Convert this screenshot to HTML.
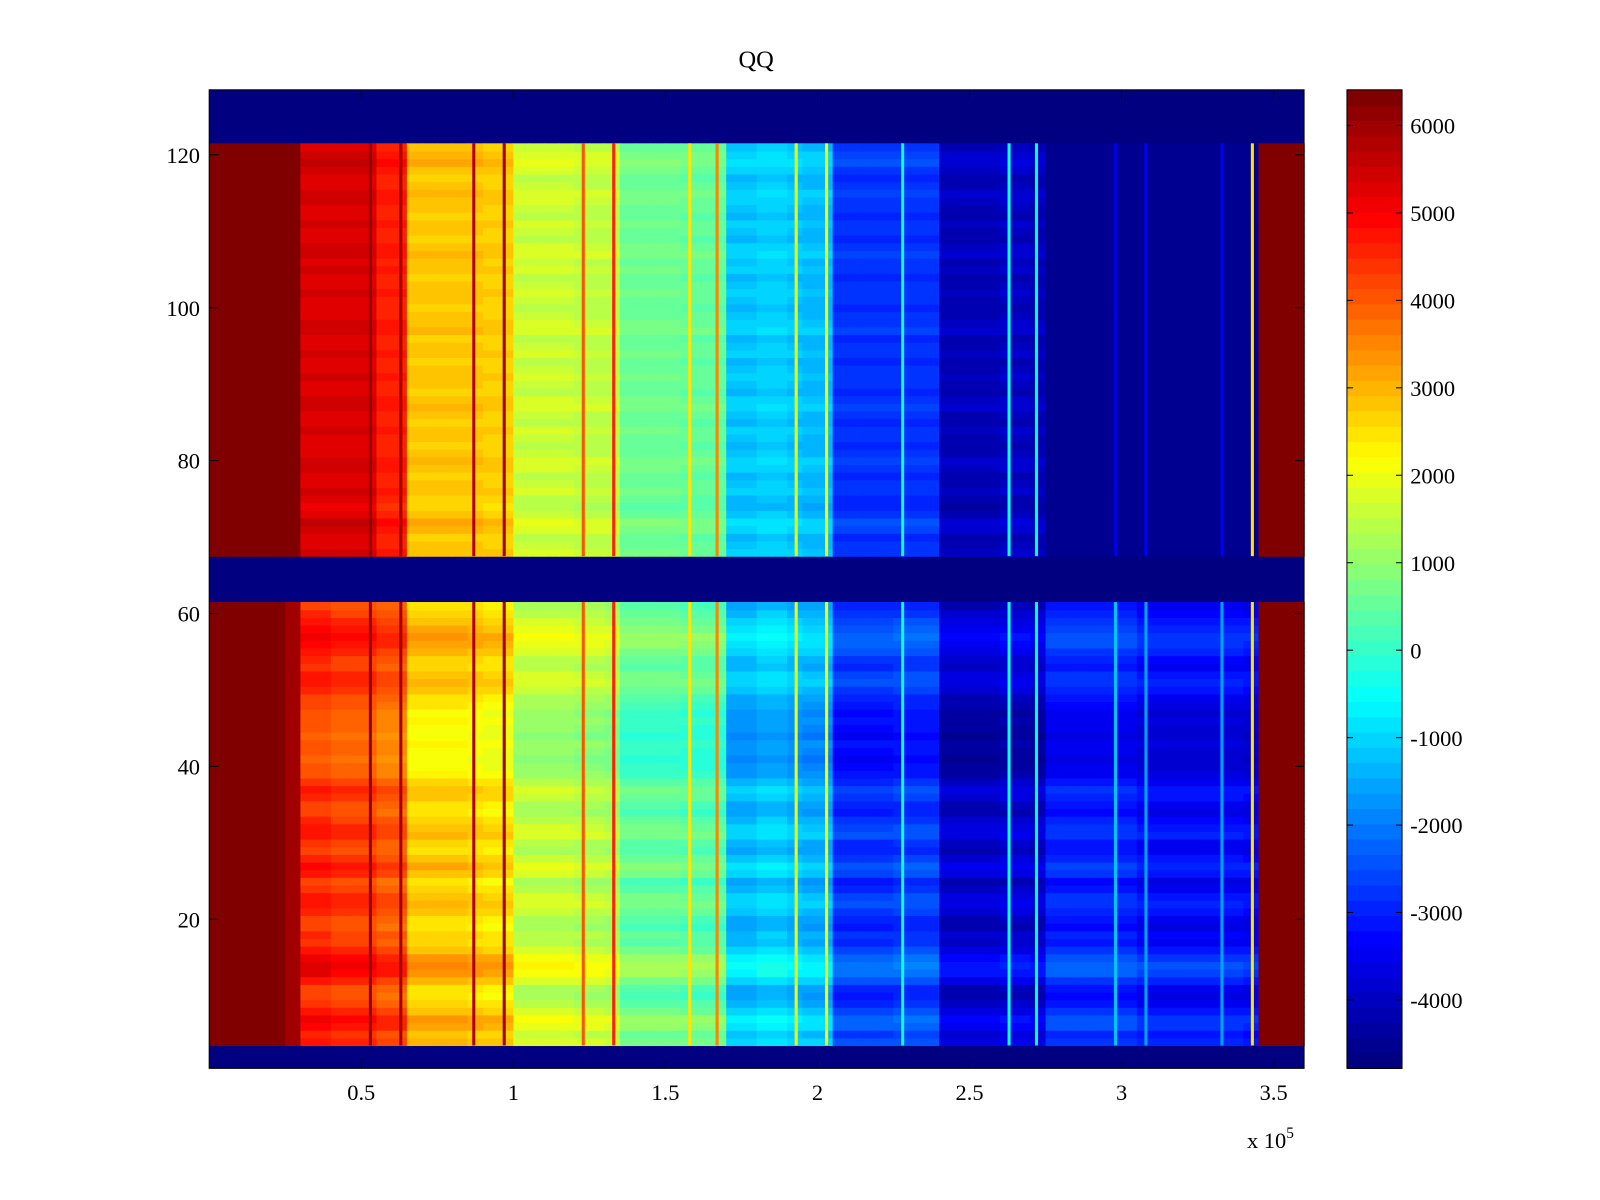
<!DOCTYPE html>
<html><head><meta charset="utf-8"><title>QQ</title>
<style>
html,body{margin:0;padding:0;background:#fff;}
svg{display:block;font-family:"Liberation Serif",serif;}
</style></head>
<body>
<svg id="chart" width="1600" height="1200" viewBox="0 0 1568 1176">
<text x="741" y="66" font-size="24" text-anchor="middle">QQ</text>
<g id="cells"></g>
<g id="lines"></g>
<rect x="205" y="88" width="1073" height="959" fill="none" stroke="#000" stroke-width="1"/>
<g id="axes"></g>
<g id="cbar"></g>
<text x="1222" y="1125" font-size="22">x 10<tspan dy="-10" font-size="15">5</tspan></text>
</svg>
<script>
// ---- data ----
const binWidth = 0.05;
const topBase = [6400,6400,6400,6400,6400,6400,5300,5300,5300,5300,5300,4600,4600,2800,2800,2800,2800,2800,2700,2700,1600,1600,1600,1600,1500,1500,1500,600,600,600,600,500,500,500,-1200,-1200,-1100,-1100,-1200,-1300,-1300,-2800,-2800,-2800,-2800,-2800,-2800,-2800,-4100,-4100,-4100,-4100,-4000,-4000,-4100,-4600,-4600,-4600,-4600,-4600,-4600,-4600,-4600,-4600,-4600,-4600,-4600,-4600,-4600,6400,6400,6400];
const bottomBase = [6400,6400,6400,6400,6400,6000,4500,4500,4300,4300,4300,4000,4000,2700,2700,2700,2700,2600,2500,2500,1500,1500,1500,1500,1400,1400,1300,500,500,500,500,400,400,400,-1300,-1300,-1100,-1100,-1300,-1400,-1400,-2800,-2800,-2800,-2800,-2700,-2700,-2700,-3900,-3900,-3900,-3900,-3800,-3800,-3900,-3000,-3000,-3000,-3000,-3000,-3000,-3300,-3300,-3300,-3300,-3300,-3300,-3300,-3400,6400,6400,6400];
const topRows = [68,121];
const bottomRows = [4,61];
const rowOffsetBottom = [300,100,500,600,200,-100,-300,-200,300,700,800,600,200,-100,0,-300,-200,100,300,200,-100,-300,200,400,100,-200,-100,300,200,0,-300,-200,100,200,-100,-400,-500,-600,-500,-400,-600,-500,-400,-500,-300,-200,100,300,200,-100,0,300,500,600,400,200,0,-200];
const rowOffsetTop = [100,0,-100,200,300,0,-200,-100,100,0,-100,100,200,0,-100,0,100,-100,0,200,100,-100,0,100,0,-100,100,0,-100,200,100,0,-100,0,100,0,-100,100,0,200,100,-100,0,100,-100,0,100,200,0,-100,100,300,200,0];
const lineX = [0.53,0.63,0.87,0.97,1.23,1.33,1.58,1.67,1.93,2.03,2.28,2.63,2.72,2.98,3.08,3.33,3.43];
const lineValBottom = [6200,6000,5800,6000,4000,4500,2500,3500,2000,2200,-500,-500,-500,-1200,-1500,-1500,2500];
const lineValTop = [6200,6000,5800,6000,4000,4500,2500,3500,2000,2200,-500,-500,-500,-3600,-3400,-3400,2500];
const xTicks = [0.5,1,1.5,2,2.5,3,3.5];
const xTickLabels = ["0.5","1","1.5","2","2.5","3","3.5"];
const yTicks = [20,40,60,80,100,120];
const cTicks = [6000,5000,4000,3000,2000,1000,0,-1000,-2000,-3000,-4000];
const cMin = -4782, cMax = 6408;

// ---- scales ----
const PX0=205, PX1=1278, PY0=88, PY1=1047;
const xMin=0, xMax=3.6, yMin=0.5, yMax=128.5;
const sx = v => PX0 + (v - xMin) / (xMax - xMin) * (PX1 - PX0);
const sy = v => PY1 - (v - yMin) / (yMax - yMin) * (PY1 - PY0);
const CB0=88, CB1=1047;
const sc = v => CB1 - (v - cMin) / (cMax - cMin) * (CB1 - CB0);

function jet(v){
  let t=(v-cMin)/(cMax-cMin); t=Math.max(0,Math.min(1,t));
  t=Math.floor(t*63.999)/63;
  const f=x=>Math.max(0,Math.min(1,x));
  const r=f(1.5-Math.abs(4*t-3)), g=f(1.5-Math.abs(4*t-2)), b=f(1.5-Math.abs(4*t-1));
  return `rgb(${Math.round(r*255)},${Math.round(g*255)},${Math.round(b*255)})`;
}
const NS="http://www.w3.org/2000/svg";
function mk(tag, attrs, parent){const e=document.createElementNS(NS,tag);for(const k in attrs)e.setAttribute(k,attrs[k]);parent.appendChild(e);return e;}

const cells=document.getElementById('cells');
const bg=mk('rect',{x:PX0,y:PY0,width:PX1-PX0,height:PY1-PY0,fill:jet(cMin)},cells);



function drawBlock(base, rows, offs, name){
  for(let r=rows[0]; r<=rows[1]; r++){
    const off=offs[r-rows[0]]||0;
    for(let c=0;c<base.length;c++){
      const b=base[c];
      const v=(b>=6000||b<=-4500)?b:b+off;
      const x0=sx(c*binWidth), x1=sx((c+1)*binWidth);
      const y0=sy(r+0.5), y1=sy(r-0.5);
      const e=mk('rect',{x:x0.toFixed(2),y:y0.toFixed(2),width:(x1-x0+0.6).toFixed(2),height:(y1-y0+0.6).toFixed(2),fill:jet(v)},cells);
      
      
    }
  }
}
drawBlock(bottomBase,bottomRows,rowOffsetBottom,'cell-bottom');
drawBlock(topBase,topRows,rowOffsetTop,'cell-top');

const lines=document.getElementById('lines');
[[bottomRows,lineValBottom],[topRows,lineValTop]].forEach(([rows,vals])=>{
  lineX.forEach((lx,i)=>{
    const e=mk('rect',{x:(sx(lx)-1.5).toFixed(2),y:sy(rows[1]+0.5).toFixed(2),width:3,height:(sy(rows[0]-0.5)-sy(rows[1]+0.5)).toFixed(2),fill:jet(vals[i])},lines);
    
    
  });
});

const axes=document.getElementById('axes');
xTicks.forEach((t,i)=>{
  const x=sx(t);
  mk('line',{x1:x,y1:PY1,x2:x,y2:PY1-9,stroke:'#000'},axes);
  mk('line',{x1:x,y1:PY0,x2:x,y2:PY0+9,stroke:'#000'},axes);
  const tx=mk('text',{x:x,y:1078,'font-size':22,'text-anchor':'middle'},axes);
  tx.textContent=xTickLabels[i];
  
  
});
yTicks.forEach(t=>{
  const y=sy(t);
  mk('line',{x1:PX0,y1:y,x2:PX0+9,y2:y,stroke:'#000'},axes);
  mk('line',{x1:PX1,y1:y,x2:PX1-9,y2:y,stroke:'#000'},axes);
  const tx=mk('text',{x:196,y:y+8,'font-size':22,'text-anchor':'end'},axes);
  tx.textContent=String(t);
  
  
});

const cbar=document.getElementById('cbar');
for(let i=0;i<64;i++){
  const v0=cMin+(cMax-cMin)*i/64, v1=cMin+(cMax-cMin)*(i+1)/64;
  const e=mk('rect',{x:1320,y:sc(v1).toFixed(2),width:54,height:(sc(v0)-sc(v1)+0.6).toFixed(2),fill:jet((v0+v1)/2)},cbar);
  
  
}
mk('rect',{x:1320,y:CB0,width:54,height:CB1-CB0,fill:'none',stroke:'#000'},cbar);
cTicks.forEach(t=>{
  const y=sc(t);
  mk('line',{x1:1320,y1:y,x2:1326,y2:y,stroke:'#000'},cbar);
  mk('line',{x1:1374,y1:y,x2:1368,y2:y,stroke:'#000'},cbar);
  const tx=mk('text',{x:1382,y:y+8,'font-size':22},cbar);
  tx.textContent=String(t);
  
  
});
</script>
</body></html>
